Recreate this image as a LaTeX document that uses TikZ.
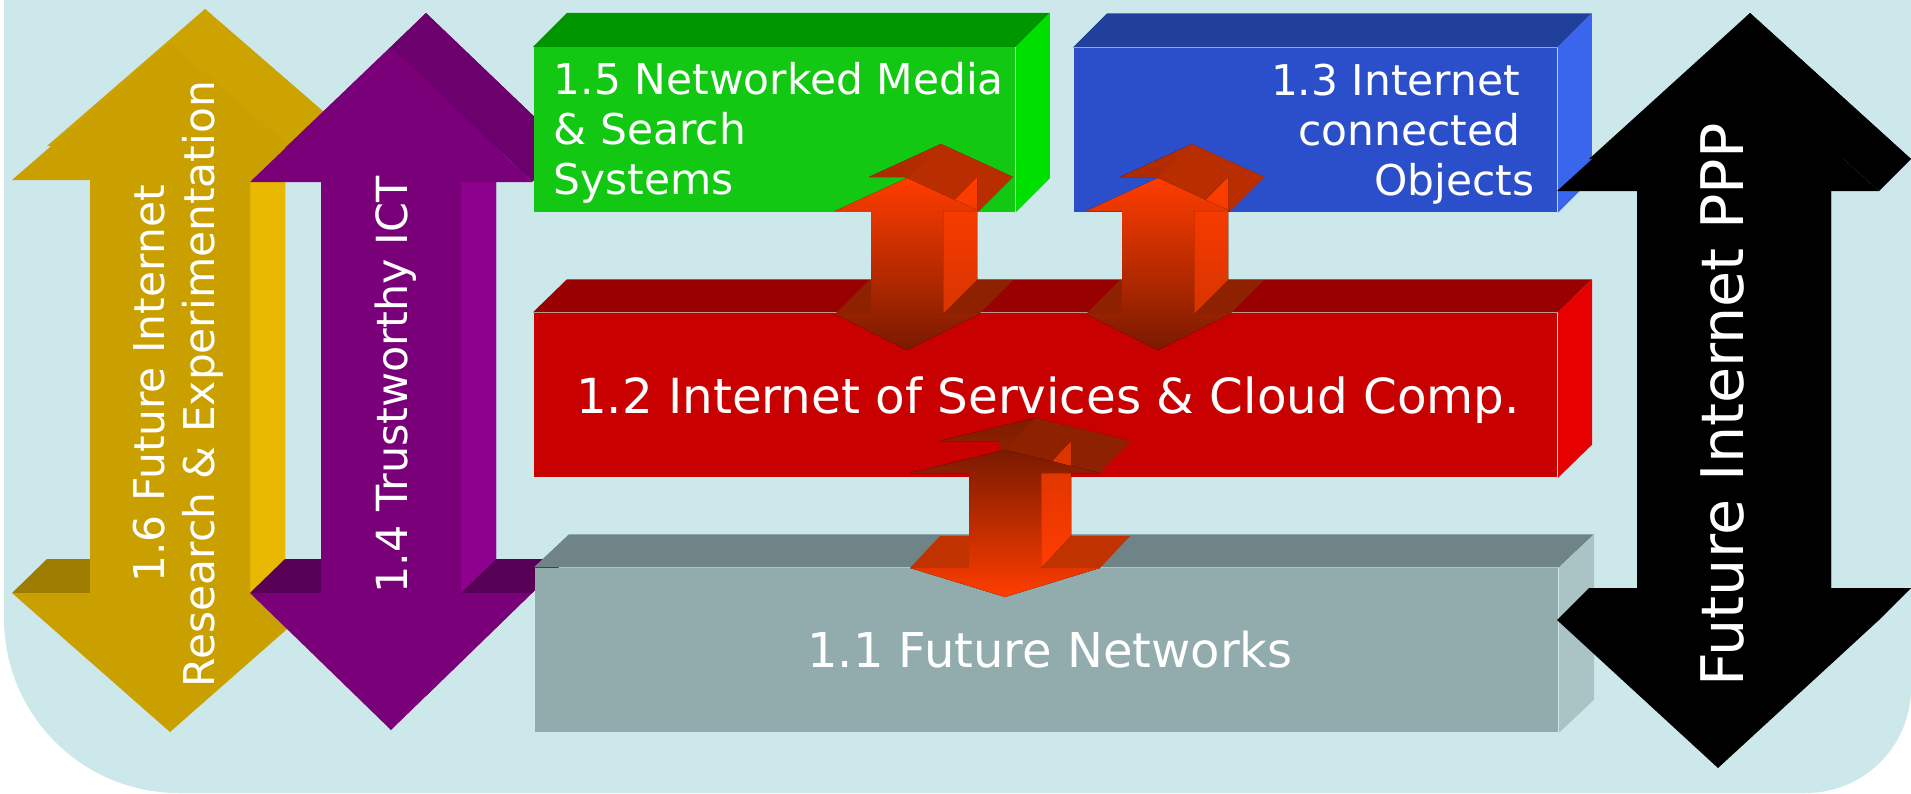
\documentclass[tikz,border=0pt]{standalone}
\usepackage{fontspec}
\setmainfont{DejaVu Sans}
\usepackage{tikz}

\definecolor{bgblue}{HTML}{CDE8EA}
\definecolor{goldfront}{HTML}{C9A000}
\definecolor{goldside}{HTML}{E8B800}
\definecolor{goldback}{HTML}{CCA300}
\definecolor{golddark}{HTML}{9E7C00}
\definecolor{purpfront}{HTML}{790079}
\definecolor{purpside}{HTML}{8E008E}
\definecolor{purpback}{HTML}{6C006C}
\definecolor{purpdark}{HTML}{560056}
\definecolor{greenfront}{HTML}{12C812}
\definecolor{greentop}{HTML}{009600}
\definecolor{greenside}{HTML}{00E000}
\definecolor{bluefront}{HTML}{2B4FCA}
\definecolor{bluetop}{HTML}{20409C}
\definecolor{blueside}{HTML}{3A66EE}
\definecolor{redfront}{HTML}{C80000}
\definecolor{redtop}{HTML}{990000}
\definecolor{redside}{HTML}{E60000}
\definecolor{greyfront}{HTML}{92ACAE}
\definecolor{greytop}{HTML}{6E8486}
\definecolor{greyside}{HTML}{AAC4C6}
\definecolor{orngbright}{HTML}{FF3D00}
\definecolor{orngmid}{HTML}{D83400}
\definecolor{orngdeep}{HTML}{7A1A00}
\definecolor{orngback}{HTML}{B82E00}
\definecolor{orngbackdk}{HTML}{7E1C00}
\definecolor{orngface}{HTML}{8E2200}
\definecolor{orngfacelt}{HTML}{C03200}

% outline of a two-headed arrow: centre x, shaft half, head half, top tip, top wing, bottom wing, bottom tip
\newcommand{\twoway}[7]{({#1},{#4}) -- ({#1+#3},{#5}) -- ({#1+#2},{#5}) -- ({#1+#2},{#6}) -- ({#1+#3},{#6}) -- ({#1},{#7}) -- ({#1-#3},{#6}) -- ({#1-#2},{#6}) -- ({#1-#2},{#5}) -- ({#1-#3},{#5}) -- cycle}

\begin{document}
\begin{tikzpicture}[x=0.01cm, y=-0.01cm,
  box/.style={rectangle, inner sep=0, minimum height=1.64cm},
  boxtxt/.style={text=white, inner sep=0, font=\fontsize{12.05}{14.2}\selectfont},
  bigtxt/.style={text=white, inner sep=0, font=\fontsize{13.75}{16}\selectfont},
  abfront/.style={top color=orngbright, middle color=orngmid, bottom color=orngdeep},
  cfront/.style={top color=orngdeep, middle color=orngmid, bottom color=orngbright}]
\useasboundingbox (0,0) rectangle (1911,793);

\fill[bgblue] (4,0) -- (4,618) .. controls (4,715) and (82,793) .. (179,793) -- (1806,793) .. controls (1864,793) and (1911,746) .. (1911,688) -- (1911,0) -- cycle;

% 1.6 gold
\fill[goldback, shift={(35,-34)}] \twoway{170}{80}{158}{43}{180}{593}{732};
\fill[goldback] (170,43) -- (205,9) -- (363,146) -- (328,180) -- cycle;
\fill[golddark] (12,593) -- (47,559) -- (363,559) -- (328,593) -- cycle;
\fill[goldside] (250,180) -- (285,146) -- (285,559) -- (250,593) -- cycle;
\fill[goldfront] \twoway{170}{80}{158}{43}{180}{593}{732};

% 1.4 purple
\fill[purpback, shift={(35,-34)}] \twoway{391}{70}{141}{47}{182}{593}{730};
\fill[purpback] (391,47) -- (426,13) -- (567,148) -- (532,182) -- cycle;
\fill[purpdark] (250,593) -- (285,559) -- (567,559) -- (532,593) -- cycle;
\fill[purpside] (461,182) -- (496,148) -- (496,559) -- (461,593) -- cycle;
\fill[purpfront] \twoway{391}{70}{141}{47}{182}{593}{730};

\node[boxtxt, rotate=90, align=center] (researchtxt) at (178,384) {1.6 Future Internet\\Research \& Experimentation};
\node[boxtxt, rotate=90, anchor=base, font=\fontsize{12.2}{14.5}\selectfont] (trusttxt) at (407,385) {1.4 Trustworthy ICT};

% boxes
\node[box, fill=greenfront, minimum width=4.81cm] (mediabox) at (774.5,129.5) {};
\node[box, fill=bluefront, minimum width=4.83cm] (objbox) at (1315.5,130) {};
\node[box, fill=redfront, minimum width=10.23cm] (servbox) at (1045.5,395) {};
\node[box, fill=greyfront, minimum width=10.23cm] (netbox) at (1046.5,650) {};

\fill[greentop] (mediabox.north west) -- ++(34,-34) -- ([shift={(34,-34)}]mediabox.north east) -- (mediabox.north east) -- cycle;
\fill[greenside] (mediabox.north east) -- ++(34,-34) -- ([shift={(34,-34)}]mediabox.south east) -- (mediabox.south east) -- cycle;
\fill[bluetop] (objbox.north west) -- ++(34,-34) -- ([shift={(34,-34)}]objbox.north east) -- (objbox.north east) -- cycle;
\fill[blueside] (objbox.north east) -- ++(34,-34) -- ([shift={(34,-34)}]objbox.south east) -- (objbox.south east) -- cycle;
\fill[redtop] (servbox.north west) -- ++(34,-33) -- ([shift={(34,-33)}]servbox.north east) -- (servbox.north east) -- cycle;
\fill[redside] (servbox.north east) -- ++(34,-33) -- ([shift={(34,-33)}]servbox.south east) -- (servbox.south east) -- cycle;
\fill[greytop] (netbox.north west) -- ++(35,-33) -- ([shift={(35,-33)}]netbox.north east) -- (netbox.north east) -- cycle;
\fill[greyside] (netbox.north east) -- ++(35,-33) -- ([shift={(35,-33)}]netbox.south east) -- (netbox.south east) -- cycle;

\node[boxtxt, anchor=north west, align=left] (mediatxt) at ([shift={(20,15)}]mediabox.north west) {1.5 Networked Media\\\& Search\\Systems};
\node[boxtxt, anchor=north east, align=right] (objtxt) at ([shift={(-37,16)}]objbox.north east) {1.3 Internet\\connected\\Objects\kern-0.14cm};
\node[bigtxt, anchor=base] (servtxt) at ([shift={(2.5,18)}]servbox.center) {1.2 Internet of Services \& Cloud Comp.};
\node[bigtxt, anchor=base, font=\fontsize{13.65}{16}\selectfont] (nettxt) at ([shift={(3.5,17)}]netbox.center) {1.1 Future Networks};

% links media/objects -- services
\fill[top color=orngback, bottom color=orngbackdk, shift={(34,-34)}] \twoway{907}{36}{72}{178}{211}{314}{350};
\fill[orngback] (907,178) -- (941,144) -- (1013,177) -- (979,211) -- cycle;
\fill[orngface] (835,314) -- (869,280) -- (1013,280) -- (979,314) -- cycle;
\fill[top color=orngbright, bottom color=orngmid] (943,211) -- (977,177) -- (977,280) -- (943,314) -- cycle;
\fill[abfront] \twoway{907}{36}{72}{178}{211}{314}{350};

\fill[top color=orngback, bottom color=orngbackdk, shift={(34,-34)}] \twoway{1158}{36}{72}{178}{211}{314}{350};
\fill[orngback] (1158,178) -- (1192,144) -- (1264,177) -- (1230,211) -- cycle;
\fill[orngface] (1086,314) -- (1120,280) -- (1264,280) -- (1230,314) -- cycle;
\fill[top color=orngbright, bottom color=orngmid] (1194,211) -- (1228,177) -- (1228,280) -- (1194,314) -- cycle;
\fill[abfront] \twoway{1158}{36}{72}{178}{211}{314}{350};

% link services -- networks
\fill[top color=orngbackdk, bottom color=orngfacelt, shift={(30,-32)}] \twoway{1005}{36}{95}{450}{473}{568}{597};
\fill[orngface] (1005,450) -- (1035,418) -- (1130,441) -- (1100,473) -- cycle;
\fill[orngfacelt] (910,568) -- (940,536) -- (1130,536) -- (1100,568) -- cycle;
\fill[top color=orngmid, bottom color=orngbright] (1041,473) -- (1071,441) -- (1071,536) -- (1041,568) -- cycle;
\fill[cfront] \twoway{1005}{36}{95}{450}{473}{568}{597};

% PPP black
\fill[black, shift={(32,-32)}] \twoway{1718}{81}{161}{45}{191}{620}{768};
\fill[black] (1718,45) -- (1750,13) -- (1911,159) -- (1879,191) -- cycle;
\fill[black] (1557,620) -- (1589,588) -- (1911,588) -- (1879,620) -- cycle;
\fill[black] (1799,191) -- (1831,159) -- (1831,588) -- (1799,620) -- cycle;
\fill[black] \twoway{1718}{81}{161}{45}{191}{620}{768};
\node[text=white, inner sep=0, rotate=90, anchor=base, font=\fontsize{16.7}{20}\selectfont] (ppptxt) at (1743,405) {Future Internet PPP};
\end{tikzpicture}
\end{document}
